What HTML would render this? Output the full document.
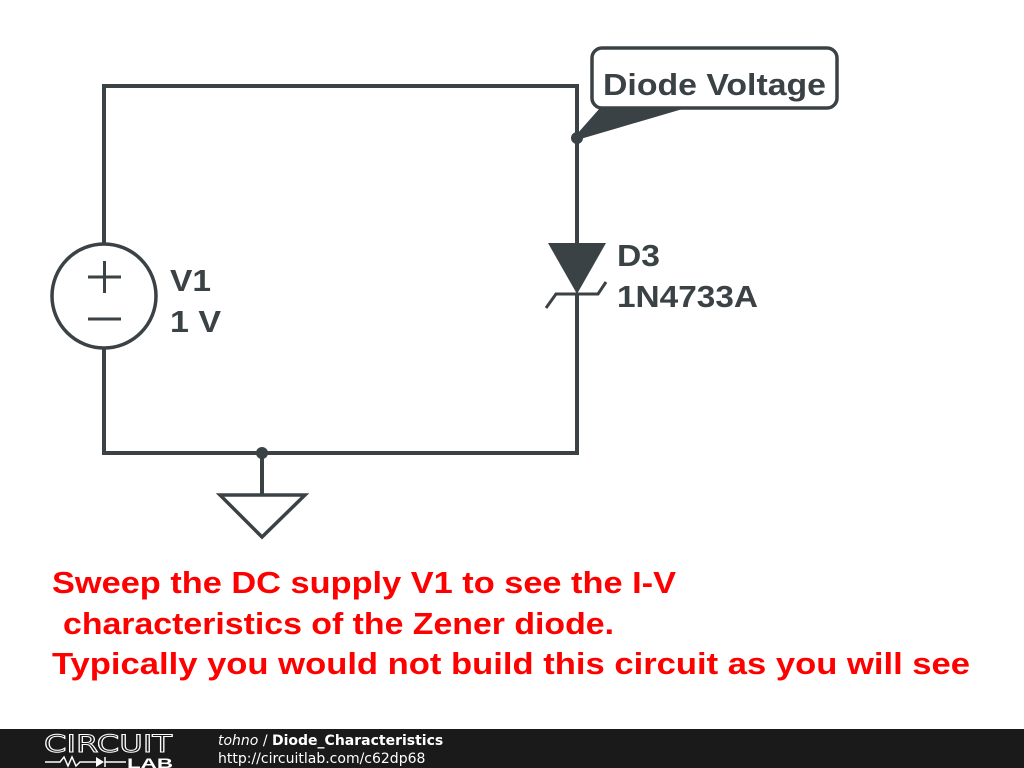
<!DOCTYPE html>
<html><head><meta charset="utf-8"><style>
html,body{margin:0;padding:0;background:#fff;width:1024px;height:768px;overflow:hidden}
svg{display:block}
</style></head><body>
<svg width="1024" height="768" viewBox="0 0 1024 768" xmlns="http://www.w3.org/2000/svg">
<g stroke="#3b4245" stroke-width="4" fill="none" stroke-linecap="butt">
<polyline points="104,243 104,86 577,86 577,243"/>
<polyline points="104,349 104,453 577,453 577,293"/>
<circle cx="104" cy="296" r="52" stroke-width="3.5"/>
<line x1="88" y1="277" x2="121" y2="277" stroke-width="3"/>
<line x1="104.5" y1="261" x2="104.5" y2="293" stroke-width="3"/>
<line x1="88" y1="319" x2="121" y2="319" stroke-width="3"/>
<line x1="262" y1="453" x2="262" y2="495"/>
<polygon points="220,495 305,495 262,537" stroke-width="3.5"/>
<polyline points="546,308 556,294 598,294 606,282" stroke-width="3"/>
<rect x="592" y="48" width="245" height="60" rx="10" stroke-width="3.5" fill="#fff"/>
</g>
<polygon points="548,243 606,243 577,294" fill="#3b4245"/>
<polygon points="600,108 686,108 577,140 577,134" fill="#3b4245"/>
<circle cx="577" cy="138" r="6" fill="#3b4245"/>
<circle cx="262" cy="453" r="6" fill="#3b4245"/>
<g font-family="Liberation Sans, sans-serif" font-weight="bold" fill="#3b4245">
<text x="603" y="95" font-size="31" textLength="223" lengthAdjust="spacingAndGlyphs">Diode Voltage</text>
<text x="170" y="291" font-size="31" textLength="41" lengthAdjust="spacingAndGlyphs">V1</text>
<text x="170" y="332" font-size="31" textLength="51" lengthAdjust="spacingAndGlyphs">1 V</text>
<text x="617" y="266" font-size="31" textLength="43" lengthAdjust="spacingAndGlyphs">D3</text>
<text x="617" y="307" font-size="31" textLength="141" lengthAdjust="spacingAndGlyphs">1N4733A</text>
</g>
<g font-family="Liberation Sans, sans-serif" font-weight="bold" fill="#ff0000" font-size="31">
<text x="52" y="593" textLength="624" lengthAdjust="spacingAndGlyphs">Sweep the DC supply V1 to see the I-V</text>
<text x="63" y="634" textLength="551" lengthAdjust="spacingAndGlyphs">characteristics of the Zener diode.</text>
<text x="52" y="674" textLength="918" lengthAdjust="spacingAndGlyphs">Typically you would not build this circuit as you will see</text>
</g>
<rect x="0" y="729" width="1024" height="39" fill="#1a1a1a"/>
<g fill="#fff" font-family="DejaVu Sans, sans-serif">
<text x="44" y="752" font-size="24" font-weight="normal" textLength="128" lengthAdjust="spacingAndGlyphs" fill="none" stroke="#fff" stroke-width="1">CIRCUIT</text>
<polyline points="45,762 60,762 64,757 68,766 72,757 76,766 80,762 96,762" stroke="#fff" stroke-width="1.5" fill="none"/>
<polygon points="96,757 96,767 104,762" fill="#fff"/>
<line x1="105" y1="757" x2="105" y2="767" stroke="#fff" stroke-width="1.5"/>
<line x1="105" y1="762" x2="126" y2="762" stroke="#fff" stroke-width="1.5"/>
<text x="127" y="768" font-size="14" font-weight="bold" font-family="Liberation Sans, sans-serif" textLength="46" lengthAdjust="spacingAndGlyphs">LAB</text>
<text x="218" y="745" font-size="14"><tspan font-style="italic">tohno</tspan> / <tspan font-weight="bold">Diode_Characteristics</tspan></text>
<text x="218" y="763" font-size="14">http://circuitlab.com/c62dp68</text>
</g>
</svg>
</body></html>
